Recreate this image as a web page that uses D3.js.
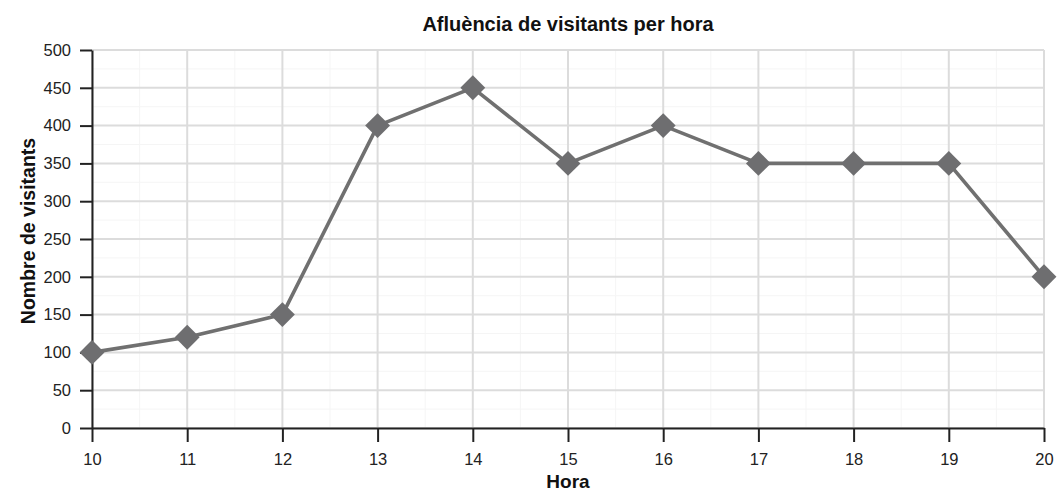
<!DOCTYPE html>
<html><head><meta charset="utf-8">
<script src="https://cdn.jsdelivr.net/npm/d3@7"></script>
<style>
body{margin:0;background:#fff;}
text{font-family:"Liberation Sans",Arial,Helvetica,sans-serif;}
</style></head>
<body><svg id="c" width="1057" height="492"></svg>
<script>
const hours = [10,11,12,13,14,15,16,17,18,19,20];
const visitors = [100,120,150,400,450,350,400,350,350,350,200];
const yTicks = [0,50,100,150,200,250,300,350,400,450,500];
const title = "Afluència de visitants per hora";
const xLabel = "Hora";
const yLabel = "Nombre de visitants";

const m = {l:92, r:13, t:50, b:64};
const W = 1057, H = 492;
const svg = d3.select("#c");
const x = d3.scaleLinear().domain([10,20]).range([m.l, W-m.r]);
const y = d3.scaleLinear().domain([0,500]).range([H-m.b, m.t]);

const g = svg.append("g");
// minor grid
const minorX = d3.range(10.5,20,1);
const minorY = d3.range(25,500,50);
g.selectAll(".mx").data(minorX).join("line")
 .attr("x1",d=>x(d)).attr("x2",d=>x(d)).attr("y1",y(0)).attr("y2",y(500))
 .attr("stroke","#f5f5f5").attr("stroke-width",1);
g.selectAll(".my").data(minorY).join("line")
 .attr("x1",x(10)).attr("x2",x(20)).attr("y1",d=>y(d)).attr("y2",d=>y(d))
 .attr("stroke","#f5f5f5").attr("stroke-width",1);
// major grid
g.selectAll(".gx").data(hours).join("line")
 .attr("x1",d=>x(d)).attr("x2",d=>x(d)).attr("y1",y(0)).attr("y2",y(500))
 .attr("stroke","#dcdcdc").attr("stroke-width",2);
g.selectAll(".gy").data(yTicks).join("line")
 .attr("x1",x(10)).attr("x2",x(20)).attr("y1",d=>y(d)).attr("y2",d=>y(d))
 .attr("stroke","#dcdcdc").attr("stroke-width",2);

// axes
const xa = svg.append("g").attr("transform",`translate(0,${y(0)})`)
 .call(d3.axisBottom(x).tickValues(hours).tickFormat(d3.format("d")).tickSize(14).tickPadding(11).tickSizeOuter(0));
const ya = svg.append("g").attr("transform",`translate(${x(10)},0)`)
 .call(d3.axisLeft(y).tickValues(yTicks).tickSize(12).tickPadding(9).tickSizeOuter(0));
[xa,ya].forEach(a=>{
  a.attr("font-size",16.5).attr("font-family","'Liberation Sans',Arial,sans-serif");
  a.select(".domain").attr("stroke","#222").attr("stroke-width",2);
  a.selectAll(".tick line").attr("stroke","#222").attr("stroke-width",2);
  a.selectAll("text").attr("fill","#222");
});

// line
const line = d3.line().x((d,i)=>x(hours[i])).y(d=>y(d));
svg.append("path").datum(visitors).attr("d",line)
 .attr("fill","none").attr("stroke","#707070").attr("stroke-width",3.6).attr("stroke-linejoin","round");
const sym = d3.symbol().type(d3.symbolSquare).size(310);
svg.selectAll(".pt").data(visitors).join("path")
 .attr("d",sym)
 .attr("transform",(d,i)=>`translate(${x(hours[i])},${y(d)}) rotate(45)`)
 .attr("fill","#6e6e70");

// labels
svg.append("text").attr("x",(x(10)+x(20))/2).attr("y",31).attr("text-anchor","middle")
 .attr("font-size",20).attr("font-weight","bold").attr("fill","#111").text(title);
svg.append("text").attr("x",(x(10)+x(20))/2).attr("y",488).attr("text-anchor","middle")
 .attr("font-size",19).attr("font-weight","bold").attr("fill","#111").text(xLabel);
svg.append("text").attr("transform",`translate(35,${(y(0)+y(500))/2-8}) rotate(-90)`)
 .attr("text-anchor","middle").attr("font-size",19.5).attr("font-weight","bold").attr("fill","#111").text(yLabel);
</script></body></html>
